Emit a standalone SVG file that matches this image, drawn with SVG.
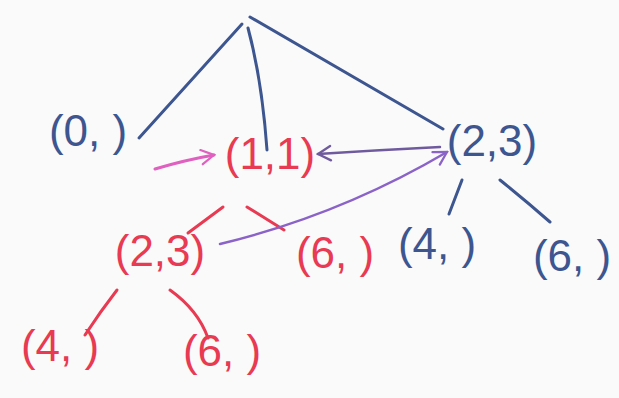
<svg xmlns="http://www.w3.org/2000/svg" width="619" height="398" viewBox="0 0 619 398">
<defs>
<style>
.t{font-family:"Liberation Sans",Arial,sans-serif;font-size:44px;text-anchor:middle;dominant-baseline:central}
.b{fill:#3d5690}
.r{fill:#e83a52}
.lb{stroke:#3d5690;stroke-width:3;fill:none;stroke-linecap:round}
.lr{stroke:#e83a52;stroke-width:3;fill:none;stroke-linecap:round}
.ap{stroke:#e060c0;stroke-width:3;fill:none;stroke-linecap:round}
.au{stroke:#8a62c8;stroke-width:2.5;fill:none;stroke-linecap:round}
.au2{stroke:#6f5a9e;stroke-width:2.5;fill:none;stroke-linecap:round}
</style>
<marker id="mp" viewBox="0 0 20 20" refX="18" refY="10" markerWidth="18" markerHeight="18" markerUnits="userSpaceOnUse" orient="auto"><path d="M4 2 L18 10 L4 18" fill="none" stroke="#e060c0" stroke-width="2.5" stroke-linecap="round"/></marker>
<marker id="mu" viewBox="0 0 20 20" refX="18" refY="10" markerWidth="18" markerHeight="18" markerUnits="userSpaceOnUse" orient="auto"><path d="M4 2 L18 10 L4 18" fill="none" stroke="#8a62c8" stroke-width="2.5" stroke-linecap="round"/></marker>
<marker id="mu2" viewBox="0 0 20 20" refX="18" refY="10" markerWidth="18" markerHeight="18" markerUnits="userSpaceOnUse" orient="auto"><path d="M4 2 L18 10 L4 18" fill="none" stroke="#6f5a9e" stroke-width="2.5" stroke-linecap="round"/></marker>
</defs>
<rect width="619" height="398" fill="#fafafa"/>
<g id="connectors">
<path class="lb" d="M242 24 L139 138"/>
<path class="lb" d="M248 28 Q262 80 267 150"/>
<path class="lb" d="M250 17 L443 129"/>
<path class="lb" d="M462 180 L449 214"/>
<path class="lb" d="M500 180 Q525 200 550 222"/>
<path class="lr" d="M223 207 L188 233"/>
<path class="lr" d="M247 207 L284 230"/>
<path class="lr" d="M117 290 Q100 312 85 335"/>
<path class="lr" d="M170 290 Q198 310 208 338"/>
<path class="ap" d="M155 169 Q185 160 214 155" marker-end="url(#mp)"/>
<path class="au2" d="M440 147 Q380 150 318 154" marker-end="url(#mu2)"/>
<path class="au" d="M220 244 Q340 215 447 152" marker-end="url(#mu)"/>
</g>
<g id="n0"><text class="t b" x="88" y="130">(0, )</text></g>
<g id="n1"><text class="t r" x="270" y="153">(1,1)</text></g>
<g id="n2"><text class="t b" x="492" y="140">(2,3)</text></g>
<g id="n3"><text class="t b" x="437" y="243">(4, )</text></g>
<g id="n4"><text class="t b" x="572" y="255">(6, )</text></g>
<g id="n5"><text class="t r" x="160" y="250">(2,3)</text></g>
<g id="n6"><text class="t r" x="335" y="252">(6, )</text></g>
<g id="n7"><text class="t r" x="60" y="345">(4, )</text></g>
<g id="n8"><text class="t r" x="222" y="350">(6, )</text></g>
</svg>
